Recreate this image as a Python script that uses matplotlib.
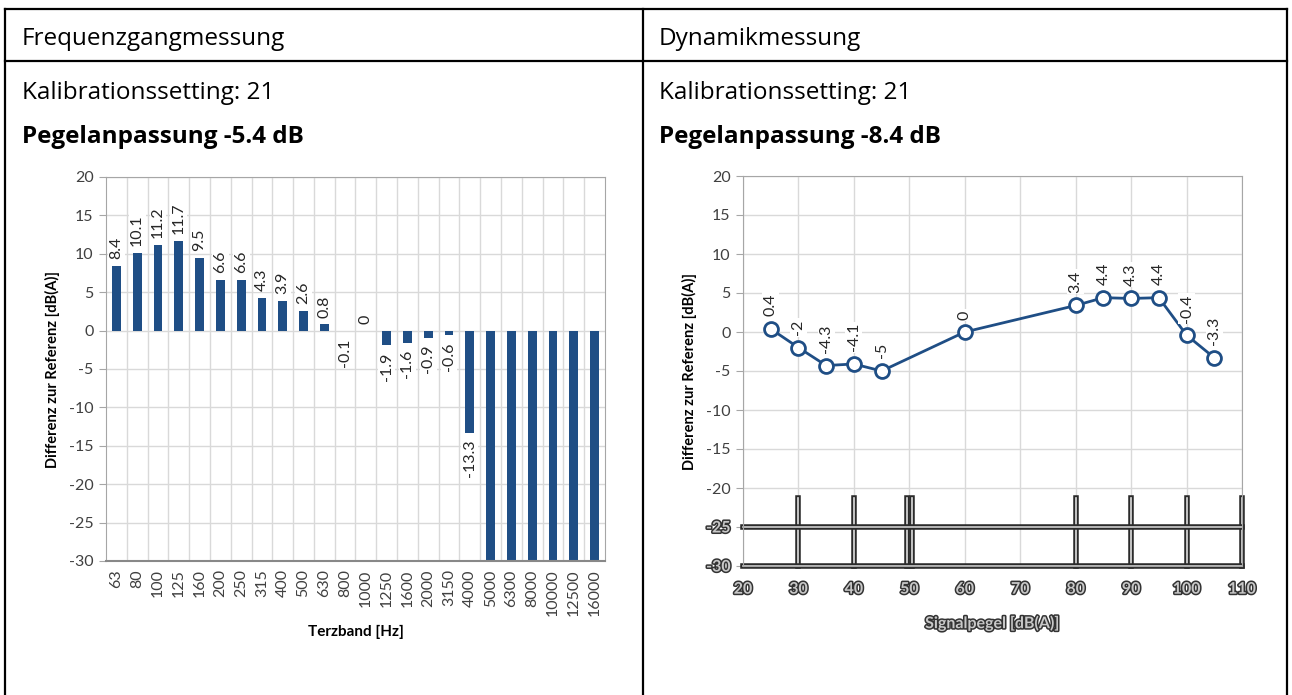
import matplotlib
matplotlib.use("Agg")
import matplotlib.pyplot as plt
import matplotlib.patheffects as pe
import numpy as np

plt.rcParams['axes.unicode_minus'] = False

# ------------ data -----------
bands = ['63', '80', '100', '125', '160', '200', '250', '315', '400', '500', '630',
         '800', '1000', '1250', '1600', '2000', '3150', '4000', '5000', '6300',
         '8000', '10000', '12500', '16000']
freq_diff = [8.4, 10.1, 11.2, 11.7, 9.5, 6.6, 6.6, 4.3, 3.9, 2.6, 0.8,
             -0.1, 0, -1.9, -1.6, -0.9, -0.6, -13.3, -40, -40, -40, -40, -40, -40]

level = [25, 30, 35, 40, 45, 60, 80, 85, 90, 95, 100, 105]
dyn_diff = [0.4, -2, -4.3, -4.1, -5, 0, 3.4, 4.4, 4.3, 4.4, -0.4, -3.3]

headers = ['Frequenzgangmessung', 'Dynamikmessung']
calib = ['Kalibrationssetting: 21', 'Kalibrationssetting: 21']
gain = ['Pegelanpassung -5.4 dB', 'Pegelanpassung -8.4 dB']

W, H = 1292, 695
blue = '#1f4e85'
grid_c = '#d9d9d9'
txt_c = '#404040'
chart_font = ['Lato', 'DejaVu Sans']
doc_font = ['Open Sans', 'DejaVu Sans']

fig = plt.figure(figsize=(W / 100, H / 100), dpi=100)


def px_axes(x0, y0, x1, y1):
    return fig.add_axes([x0 / W, 1 - y1 / H, (x1 - x0) / W, (y1 - y0) / H])


# ------------ table frame and texts -----------
frame = fig.add_axes([0, 0, 1, 1])
frame.set_xlim(0, W)
frame.set_ylim(H, 0)
frame.axis('off')
lw = 1.6
frame.plot([5, 5], [9, H], color='black', lw=lw)
frame.plot([643, 643], [9, H], color='black', lw=lw)
frame.plot([1287, 1287], [9, H], color='black', lw=lw)
frame.plot([5, 1287], [9, 9], color='black', lw=lw)
frame.plot([5, 1287], [61, 61], color='black', lw=lw)
for i, x0 in enumerate([22, 659]):
    frame.text(x0, 45, headers[i], fontsize=17.5, family=doc_font, va='baseline')
    frame.text(x0, 99, calib[i], fontsize=17.5, family=doc_font, va='baseline')
    frame.text(x0, 143, gain[i], fontsize=17.5, family=doc_font, weight='bold', va='baseline')

# ------------ bar chart -----------
ax = px_axes(106, 177, 605, 561)
pos = np.arange(len(bands))
ax.bar(pos, freq_diff, width=0.42, color=blue, zorder=2)
ax.set_xlim(-0.5, len(bands) - 0.5)
ax.set_ylim(-30, 20)
ax.set_yticks(np.arange(-30, 21, 5))
ax.set_xticks(pos, labels=bands, rotation=90)
ax.set_xticks(pos[:-1] + 0.5, minor=True)
ax.tick_params(axis='x', which='both', length=0, pad=6)
ax.tick_params(axis='y', length=5, color='#a6a6a6', pad=4)
ax.grid(True, axis='y', color=grid_c, lw=1, zorder=0)
ax.grid(True, axis='x', which='minor', color=grid_c, lw=1, zorder=0)
for s in ax.spines.values():
    s.set_color('#a6a6a6')
ax.spines['bottom'].set_color('#888888')
ax.spines['bottom'].set_linewidth(1.5)
for lab in ax.get_xticklabels() + ax.get_yticklabels():
    lab.set_family(chart_font)
    lab.set_fontsize(11.5)
    lab.set_color(txt_c)
ax.set_xlabel('Terzband [Hz]', fontsize=11, family=chart_font, weight='bold', labelpad=6)
ax.set_ylabel('Differenz zur Referenz [dB(A)]', fontsize=10.5, family=chart_font,
              weight='bold', labelpad=6)
for p, v in zip(pos, freq_diff):
    if v < -30:
        continue
    up = v >= 0
    ax.annotate(f'{v:g}', (p, v), xytext=(0, 5 if up else -5), textcoords='offset points',
                rotation=90, ha='center', va='bottom' if up else 'top',
                fontsize=11.5, family=chart_font, color='#262626', zorder=3,
                bbox=dict(facecolor='white', edgecolor='none', pad=1))

# ------------ line chart -----------
ax2 = px_axes(743, 176, 1242, 566)
ax2.plot(level, dyn_diff, color=blue, lw=2, marker='o', ms=10, mfc='white',
         mec=blue, mew=2, zorder=3)
ax2.set_xlim(20, 110)
ax2.set_ylim(-30, 20)
ax2.set_xticks(np.arange(20, 111, 10))
ax2.set_yticks(np.arange(-30, 21, 5))
ax2.grid(True, color=grid_c, lw=1, zorder=0)
ax2.tick_params(axis='x', length=0, pad=12)
ax2.tick_params(axis='y', length=5, color='#a6a6a6', pad=4)
for s in ax2.spines.values():
    s.set_color('#a6a6a6')
for lab in ax2.get_xticklabels() + ax2.get_yticklabels():
    lab.set_family(chart_font)
    lab.set_fontsize(11.5)
    lab.set_color(txt_c)
glitch = [pe.Stroke(linewidth=2.2, foreground='#333333'), pe.Normal()]
for lab in ax2.get_xticklabels():
    lab.set_color('#c8c8c8')
    lab.set_weight('bold')
    lab.set_path_effects(glitch)
for lab in ax2.get_yticklabels()[:2]:
    lab.set_color('#c8c8c8')
    lab.set_weight('bold')
    lab.set_path_effects(glitch)
ax2.set_ylabel('Differenz zur Referenz [dB(A)]', fontsize=10.5, family=chart_font,
               weight='bold', labelpad=6)
ax2.set_xlabel('Signalpegel [dB(A)]', fontsize=11.5, family=chart_font, weight='bold',
               color='#c8c8c8', labelpad=14, path_effects=glitch)

# broken rendering in the lower part of the original chart
double = [pe.Stroke(linewidth=4, foreground='#2b2b2b'), pe.Normal()]
for xv in [30, 40, 49.6, 50.4, 80, 90, 100, 110]:
    ax2.plot([xv, xv], [-21.3, -30], color='#e0e0e0', lw=1.2, path_effects=double,
             zorder=2, clip_on=False)
for yv in [-25, -30]:
    ax2.plot([20, 110], [yv, yv], color='#d0d0d0', lw=1.2, path_effects=double,
             zorder=2, clip_on=False)

for xv, v in zip(level, dyn_diff):
    ax2.annotate(f'{v:g}', (xv, v), xytext=(0, 9), textcoords='offset points',
                 rotation=90, ha='center', va='bottom',
                 fontsize=11.5, family=chart_font, color='#262626', zorder=4,
                 bbox=dict(facecolor='white', edgecolor='none', pad=1))

fig.savefig('out.png', dpi=100)
